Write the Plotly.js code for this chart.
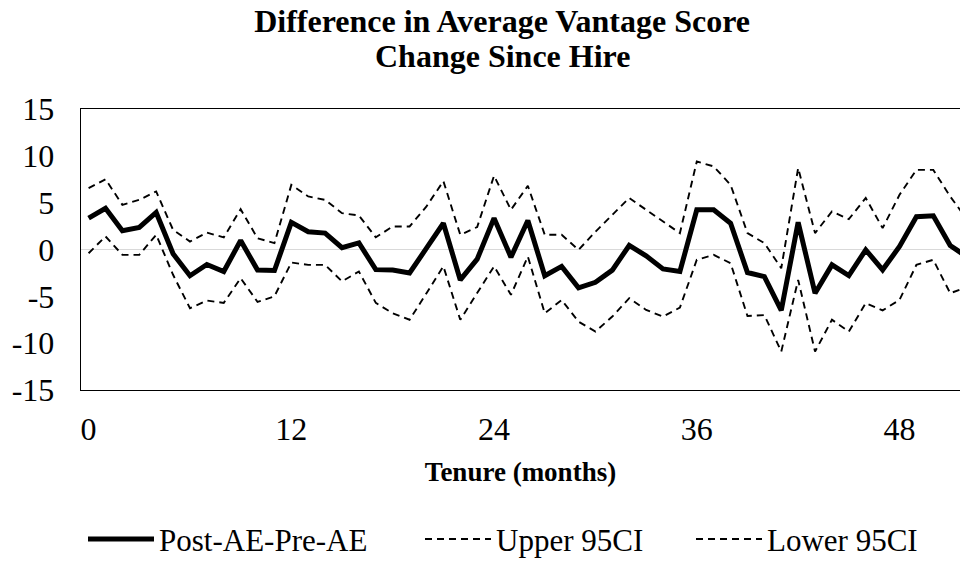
<!DOCTYPE html>
<html>
<head>
<meta charset="utf-8">
<script src="https://cdn.plot.ly/plotly-3.0.1.min.js"></script>
<style>
  body { margin: 0; overflow: hidden; background: #fff; }
  #chart { width: 960px; height: 563px; }
</style>
</head>
<body>
<div id="chart"></div>
<script>
// tenure in months, one point per month
var months = []
for (var m = 0; m <= 52; m++) months.push(m)

var diff = [3.35, 4.4, 2.0, 2.35, 3.95, -0.46, -2.8, -1.6, -2.35, 0.96, -2.2, -2.25,
    2.9, 1.9, 1.75, 0.2, 0.7, -2.15, -2.2, -2.5, 0.14, 2.8, -3.25, -1.03,
    3.35, -0.82, 3.1, -2.8, -1.8, -4.1, -3.5, -2.2, 0.43, -0.68, -2.07, -2.35,
    4.24, 4.24, 2.8, -2.46, -2.9, -6.5, 2.9, -4.67, -1.64, -2.78, -0.04, -2.17,
    0.32, 3.5, 3.6, 0.43, -0.8]

var upper = [6.55, 7.5, 4.77, 5.3, 6.2, 2.1, 0.85, 1.8, 1.3, 4.3, 1.2, 0.68,
    6.9, 5.66, 5.3, 3.88, 3.63, 1.3, 2.46, 2.46, 4.6, 7.3, 1.57, 2.4,
    7.87, 4.24, 6.8, 1.57, 1.57, -0.04, 1.9, 3.7, 5.5, 4.24, 3.0, 1.75,
    9.4, 8.87, 6.9, 1.75, 0.68, -2.0, 8.7, 1.75, 4.06, 3.24, 5.5, 2.28,
    5.84, 8.5, 8.5, 5.66, 3.2]

var lower = [-0.4, 1.4, -0.57, -0.57, 1.57, -2.7, -6.27, -5.45, -5.7, -3.06, -5.6, -5.0,
    -1.39, -1.64, -1.64, -3.4, -2.35, -5.7, -6.8, -7.5, -4.67, -1.8, -7.5, -4.67,
    -1.8, -4.84, -0.75, -6.8, -5.4, -7.7, -8.76, -7.16, -5.2, -6.45, -7.16, -6.2,
    -1.1, -0.57, -1.46, -7.1, -7.0, -10.9, -3.24, -10.9, -7.5, -8.76, -5.73, -6.5,
    -5.38, -1.64, -1.1, -4.67, -4.0]

var xTicks = [0, 12, 24, 36, 48]
var yTicks = [-15, -10, -5, 0, 5, 10, 15]

var serif = 'Liberation Serif, Times New Roman, serif'
var dash = '7px,5px'

var traces = [
    { x: months, y: diff, name: 'Post-AE-Pre-AE', type: 'scatter', mode: 'lines',
      line: { color: '#000', width: 5 }, legend: 'legend' },
    { x: months, y: upper, name: 'Upper 95CI', type: 'scatter', mode: 'lines',
      line: { color: '#000', width: 1.9, dash: dash }, legend: 'legend2' },
    { x: months, y: lower, name: 'Lower 95CI', type: 'scatter', mode: 'lines',
      line: { color: '#000', width: 1.9, dash: dash }, legend: 'legend3' }
]

// one legend box per entry so the entries sit where the reference puts them
function legendAt(px) {
    return {
        orientation: 'h',
        font: { family: serif, size: 31 },
        itemwidth: 66,
        xref: 'container', x: px / 960, xanchor: 'left',
        yref: 'container', y: 0.042, yanchor: 'middle',
        bgcolor: 'rgba(0,0,0,0)'
    }
}

var layout = {
    width: 960,
    height: 563,
    margin: { l: 81, r: 0, t: 109, b: 173 },
    paper_bgcolor: '#fff',
    plot_bgcolor: '#fff',
    font: { family: serif, color: '#000' },
    title: {
        text: '<b>Difference in Average Vantage Score</b>',
        font: { family: serif, size: 32, color: '#000' },
        xref: 'container', x: 0.523, xanchor: 'center',
        yref: 'container', y: 0.983, yanchor: 'top'
    },
    // second title line, kept apart so its spacing matches the reference
    annotations: [{
        text: '<b>Change Since Hire</b>',
        font: { family: serif, size: 32, color: '#000' },
        xref: 'paper', x: 0.479, xanchor: 'center',
        yref: 'paper', y: 1.19, yanchor: 'middle',
        showarrow: false
    }],
    xaxis: {
        range: [-0.45, 51.58],
        tickvals: xTicks,
        ticktext: xTicks.map(String),
        tickfont: { family: serif, size: 32 },
        ticks: '', ticklabelstandoff: 10,
        showgrid: false, zeroline: false,
        showline: true, mirror: true, linecolor: '#000', linewidth: 1.3,
        title: { text: '<b>Tenure (months)</b>', font: { family: serif, size: 27 }, standoff: 16 }
    },
    yaxis: {
        range: [-15, 15],
        tickvals: yTicks,
        ticktext: yTicks.map(String),
        tickfont: { family: serif, size: 32 },
        ticks: '', ticklabelstandoff: 19,
        showgrid: false,
        zeroline: true, zerolinecolor: '#d9d9d9', zerolinewidth: 1.5,
        showline: true, linecolor: '#000', linewidth: 1.3
    },
    showlegend: true,
    legend: legendAt(83),
    legend2: legendAt(420),
    legend3: legendAt(691)
}

Plotly.newPlot('chart', traces, layout, { displayModeBar: false, staticPlot: true })
</script>
</body>
</html>
